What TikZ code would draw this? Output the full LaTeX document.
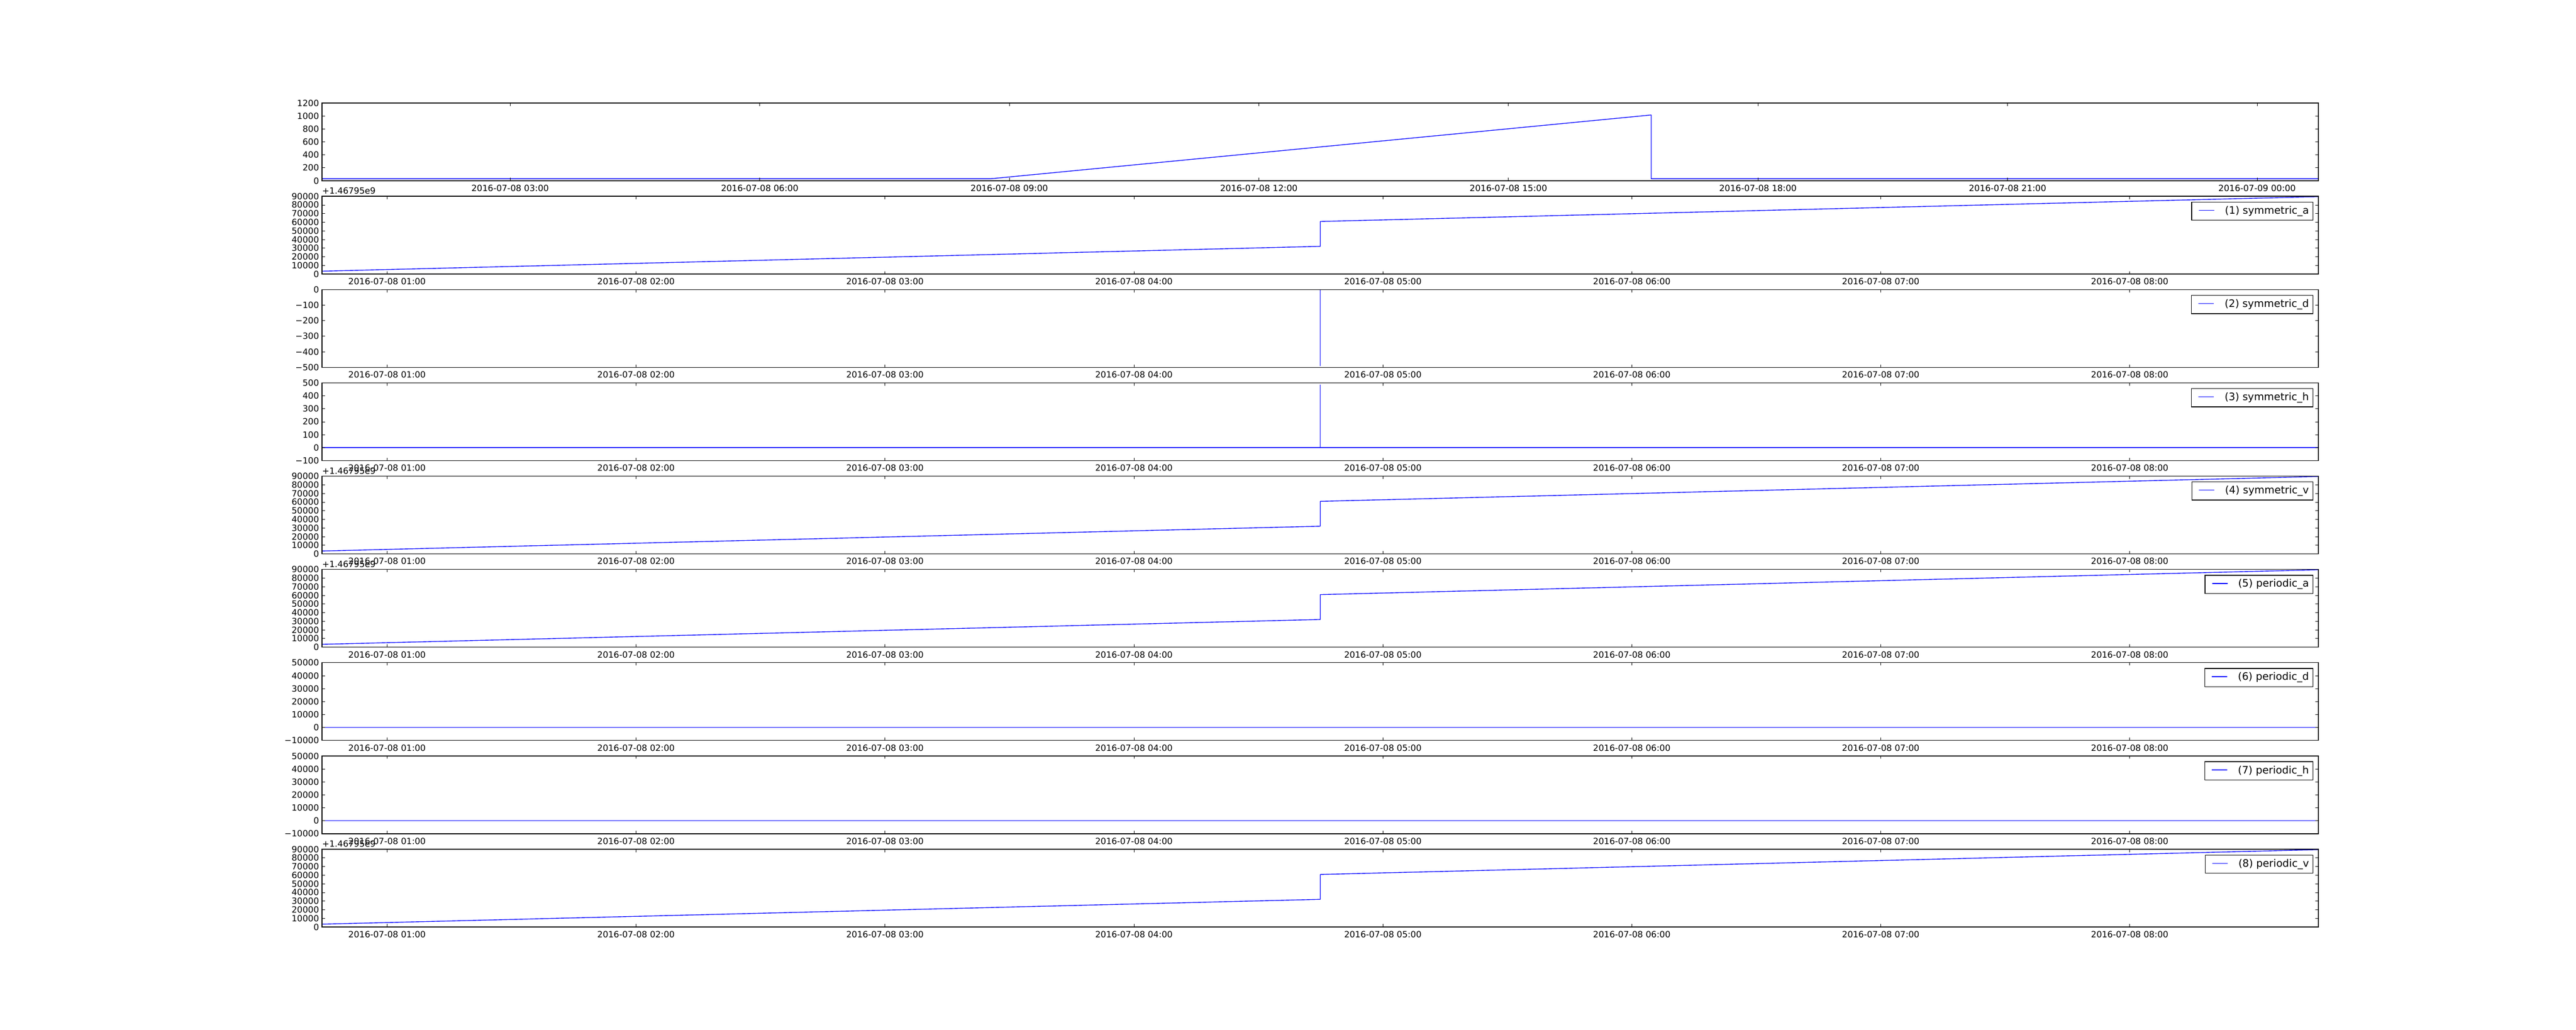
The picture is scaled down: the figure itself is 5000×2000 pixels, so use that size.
\documentclass[tikz,border=0pt]{standalone}
\usepackage{fontspec}
\setmainfont{DejaVu Sans}
\usetikzlibrary{calc}
\def\L{625}\def\R{4500}\def\H{150.943}\def\S{181.132}\def\TL{5.556}
\tikzset{
  axisframe/.style={draw=black, line width=1pt},
  tickmark/.style={draw=black, line width=0.5pt},
  dataline/.style={draw=blue, line width=1pt, line join=round},
  ticklabel/.style={inner sep=0pt, font=\fontsize{12}{14}\selectfont},
  legendbox/.style={draw=black, fill=white, line width=1pt, inner sep=0pt,
    text height=16.5pt, text depth=9pt, font=\fontsize{14.4}{17}\selectfont}
}
\newcommand\myframe[1]{%
  \pgfmathsetmacro\T{200+\S*#1}%
  \draw[axisframe] (\L,\T) rectangle (\R,\T+\H);}
\newcommand\myyticks[4]{%
  \pgfmathsetmacro\T{200+\S*#1}%
  \foreach \v/\lab [count=\k] in {#4} {
    \pgfmathsetmacro\yy{\T+\H*(#3-\v)/(#3-#2)}
    \draw[tickmark] (\L,\yy) -- ++(\TL,0);
    \draw[tickmark] (\R,\yy) -- ++(-\TL,0);
    \node[ticklabel, anchor=east] (yl#1-\k) at (619.4,\yy) {\lab};
  }}
\newcommand\myxticks[4]{%
  \pgfmathsetmacro\T{200+\S*#1}%
  \pgfmathsetmacro\B{\T+\H}%
  \foreach \lab [count=\k] in {#4} {
    \pgfmathsetmacro\xx{#2+#3*(\k-1)}
    \draw[tickmark] (\xx,\B) -- ++(0,-\TL);
    \draw[tickmark] (\xx,\T) -- ++(0,\TL);
    \node[ticklabel, anchor=base] (xl#1-\k) at (\xx,\B+20.5) {\lab};
  }}
\newcommand\mydata[2]{%
  \pgfmathsetmacro\T{200+\S*#1}%
  \begin{scope}[shift={(0,\T)}]
    \clip (\L,0) rectangle (\R,\H);
    \draw[dataline] #2;
  \end{scope}}
\newcommand\mylegend[2]{%
  \pgfmathsetmacro\T{200+\S*#1}%
  \node[legendbox, anchor=north east] (leg#1) at (4490.3,\T+10.5)
    {\kern9.9pt{\color{blue}\rule[4.5pt]{21.6pt}{1pt}}\kern14.9pt#2\kern5.8pt};}
\newcommand\myoffset[1]{%
  \pgfmathsetmacro\T{200+\S*#1}%
  \node[ticklabel, anchor=base west] (off#1) at (625,\T-4.4) {+1.46795e9};}
\newcommand\hourlabels{2016-07-08 01:00,2016-07-08 02:00,2016-07-08 03:00,2016-07-08 04:00,2016-07-08 05:00,2016-07-08 06:00,2016-07-08 07:00,2016-07-08 08:00}
\begin{document}
\begin{tikzpicture}[x=0.72pt,y=-0.72pt]
\fill[white] (0,0) rectangle (5000,2000);
\useasboundingbox (0,0) rectangle (5000,2000);
% ---------- data lines ----------
\mydata{0}{(\L,147.17) -- (1922,147.17) -- (3205,23.27) -- (3205,147.17) -- (\R,147.17)}
\mydata{1}{(\L,145.413) -- (2562.7,97.223) -- (2562.7,48.903) -- (\R,0.723)}
\mydata{2}{(\L,0) -- (2562.7,0) -- (2562.7,147.92) -- (2562.7,0) -- (\R,0)}
\mydata{3}{(\L,125.786) -- (2562.7,125.786) -- (2562.7,4.03) -- (2562.7,125.786) -- (\R,125.786)}
\mydata{4}{(\L,145.413) -- (2562.7,97.223) -- (2562.7,48.903) -- (\R,0.723)}
\mydata{5}{(\L,145.413) -- (2562.7,97.223) -- (2562.7,48.903) -- (\R,0.723) -- (\R,72.123)}
\mydata{6}{(\L,125.786) -- (\R,125.786) -- (\R,15.1)}
\mydata{7}{(\L,125.786) -- (\R,125.786) -- (\R,15.1)}
\mydata{8}{(\L,145.413) -- (2562.7,97.223) -- (2562.7,48.903) -- (\R,0.723) -- (\R,72.123)}
% ---------- frames ----------
\foreach \p in {0,...,8} {\myframe{\p}}
% ---------- y ticks ----------
\myyticks{0}{0}{12}{0/0,2/200,4/400,6/600,8/800,10/1000,12/1200}
\myyticks{1}{0}{9}{0/0,1/10000,2/20000,3/30000,4/40000,5/50000,6/60000,7/70000,8/80000,9/90000}
\myyticks{2}{-5}{0}{0/0,-1/−100,-2/−200,-3/−300,-4/−400,-5/−500}
\myyticks{3}{-1}{5}{-1/−100,0/0,1/100,2/200,3/300,4/400,5/500}
\myyticks{4}{0}{9}{0/0,1/10000,2/20000,3/30000,4/40000,5/50000,6/60000,7/70000,8/80000,9/90000}
\myyticks{5}{0}{9}{0/0,1/10000,2/20000,3/30000,4/40000,5/50000,6/60000,7/70000,8/80000,9/90000}
\myyticks{6}{-1}{5}{-1/−10000,0/0,1/10000,2/20000,3/30000,4/40000,5/50000}
\myyticks{7}{-1}{5}{-1/−10000,0/0,1/10000,2/20000,3/30000,4/40000,5/50000}
\myyticks{8}{0}{9}{0/0,1/10000,2/20000,3/30000,4/40000,5/50000,6/60000,7/70000,8/80000,9/90000}
% ---------- x ticks ----------
\myxticks{0}{990.2}{484.4}{2016-07-08 03:00,2016-07-08 06:00,2016-07-08 09:00,2016-07-08 12:00,2016-07-08 15:00,2016-07-08 18:00,2016-07-08 21:00,2016-07-09 00:00}
\foreach \p in {1,...,8} {\expandafter\myxticks\expandafter{\expandafter\p\expandafter}\expandafter{\expandafter7\expandafter5\expandafter1\expandafter.\expandafter3\expandafter}\expandafter{\expandafter4\expandafter8\expandafter3\expandafter.\expandafter2\expandafter}\expandafter{\hourlabels}}
% ---------- offset texts ----------
\myoffset{1}
\myoffset{4}
\myoffset{5}
\myoffset{8}
% ---------- legends ----------
\mylegend{1}{(1) symmetric\_a}
\mylegend{2}{(2) symmetric\_d}
\mylegend{3}{(3) symmetric\_h}
\mylegend{4}{(4) symmetric\_v}
\mylegend{5}{(5) periodic\_a}
\mylegend{6}{(6) periodic\_d}
\mylegend{7}{(7) periodic\_h}
\mylegend{8}{(8) periodic\_v}
\end{tikzpicture}
\end{document}
